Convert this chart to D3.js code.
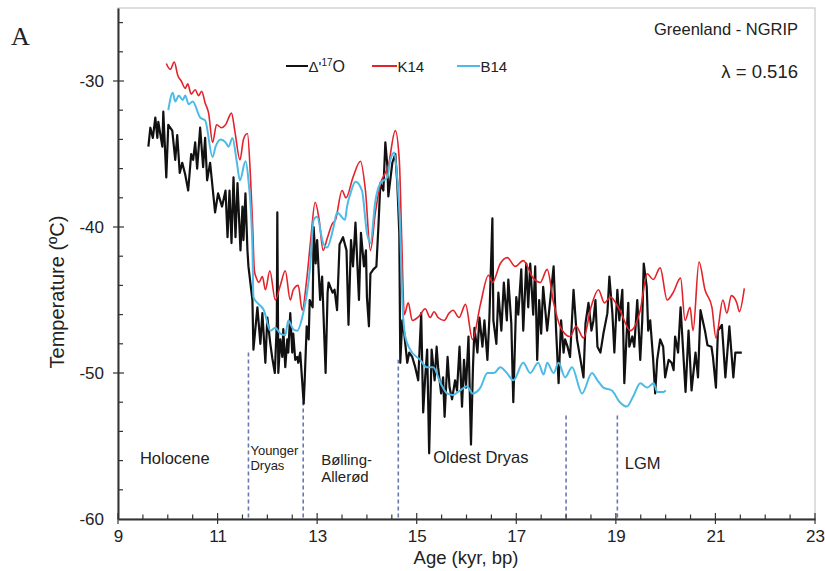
<!DOCTYPE html>
<html><head><meta charset="utf-8">
<script src="https://cdn.jsdelivr.net/npm/d3@7"></script>
<style>body{margin:0;background:#fff}svg{display:block}text{font-family:"Liberation Sans",Arial,Helvetica,sans-serif;fill:#222}</style>
</head><body>
<svg id="c" width="825" height="571"></svg>
<script>
// ---- data ----
const d17O = [[9.61,-34.5],[9.65,-33.2],[9.7,-33.9],[9.75,-32.5],[9.79,-33.9],[9.81,-32.8],[9.89,-34.5],[9.91,-32.1],[9.97,-36.6],[10.01,-33.0],[10.09,-33.4],[10.15,-35.4],[10.19,-33.7],[10.24,-36.3],[10.29,-35.6],[10.35,-36.4],[10.41,-37.5],[10.47,-35.0],[10.51,-35.4],[10.55,-34.2],[10.59,-36.0],[10.65,-33.2],[10.71,-35.9],[10.75,-33.9],[10.79,-36.8],[10.85,-35.6],[10.95,-39.0],[11.01,-37.7],[11.09,-38.6],[11.16,-37.5],[11.2,-40.7],[11.24,-37.5],[11.28,-41.1],[11.32,-36.6],[11.36,-40.7],[11.4,-37.0],[11.46,-41.6],[11.5,-38.6],[11.52,-40.9],[11.56,-37.7],[11.6,-41.6],[11.62,-42.7],[11.7,-45.0],[11.72,-48.4],[11.8,-45.5],[11.86,-48.0],[11.9,-45.9],[11.96,-49.3],[12.0,-46.2],[12.06,-48.0],[12.1,-49.0],[12.15,-50.0],[12.19,-46.6],[12.2,-39.0],[12.22,-50.0],[12.26,-47.7],[12.3,-48.9],[12.32,-47.0],[12.36,-49.6],[12.4,-47.7],[12.42,-48.6],[12.46,-45.9],[12.5,-48.6],[12.52,-47.3],[12.56,-49.1],[12.6,-48.9],[12.62,-49.3],[12.66,-48.6],[12.73,-52.1],[12.75,-50.5],[12.79,-46.8],[12.83,-47.7],[12.85,-45.0],[12.91,-45.5],[12.93,-40.0],[12.97,-42.5],[13.0,-40.9],[13.06,-45.0],[13.1,-43.4],[13.17,-50.0],[13.21,-44.5],[13.23,-43.8],[13.31,-44.5],[13.35,-44.3],[13.4,-45.7],[13.45,-41.2],[13.52,-40.7],[13.59,-41.6],[13.63,-46.7],[13.68,-40.9],[13.72,-42.7],[13.77,-39.7],[13.81,-42.7],[13.84,-45.0],[13.88,-40.4],[13.94,-42.7],[13.98,-41.6],[14.0,-44.8],[14.04,-46.8],[14.07,-43.2],[14.13,-42.9],[14.19,-42.7],[14.23,-40.0],[14.27,-37.0],[14.33,-37.5],[14.37,-34.2],[14.41,-35.8],[14.43,-37.9],[14.51,-35.6],[14.57,-35.0],[14.61,-37.0],[14.65,-40.4],[14.67,-49.3],[14.71,-46.4],[14.75,-47.3],[14.81,-49.3],[14.85,-48.6],[14.91,-48.9],[14.97,-49.6],[15.03,-50.5],[15.09,-45.9],[15.13,-52.7],[15.17,-50.3],[15.21,-48.4],[15.25,-55.5],[15.3,-48.4],[15.36,-50.5],[15.4,-48.2],[15.43,-49.6],[15.49,-51.4],[15.53,-50.3],[15.56,-53.0],[15.62,-48.9],[15.66,-51.0],[15.71,-51.8],[15.77,-50.5],[15.81,-51.2],[15.86,-48.2],[15.91,-52.3],[15.95,-49.1],[15.99,-51.0],[16.04,-47.5],[16.09,-54.9],[16.13,-49.6],[16.16,-46.9],[16.22,-48.6],[16.26,-46.2],[16.32,-48.2],[16.36,-46.4],[16.42,-49.1],[16.46,-46.2],[16.52,-39.4],[16.54,-46.4],[16.6,-48.0],[16.64,-44.5],[16.7,-47.1],[16.75,-43.8],[16.81,-46.4],[16.84,-43.6],[16.9,-46.6],[16.94,-52.0],[17.0,-44.8],[17.04,-46.0],[17.1,-42.9],[17.14,-47.1],[17.2,-42.5],[17.24,-45.5],[17.28,-42.5],[17.34,-46.0],[17.38,-42.7],[17.42,-49.1],[17.46,-45.0],[17.5,-47.3],[17.54,-44.1],[17.62,-47.1],[17.75,-42.7],[17.8,-47.1],[17.85,-50.7],[17.9,-46.4],[17.95,-48.6],[17.98,-47.7],[18.03,-48.2],[18.08,-48.9],[18.15,-44.3],[18.22,-47.7],[18.28,-48.9],[18.35,-50.3],[18.39,-46.6],[18.45,-45.2],[18.51,-47.1],[18.55,-46.4],[18.59,-45.0],[18.63,-48.2],[18.69,-48.6],[18.75,-47.3],[18.83,-45.9],[18.87,-43.4],[18.93,-45.9],[18.97,-48.6],[19.03,-44.3],[19.07,-46.4],[19.13,-44.3],[19.17,-50.7],[19.23,-46.4],[19.25,-45.2],[19.27,-48.2],[19.33,-47.5],[19.37,-48.2],[19.43,-45.0],[19.49,-49.1],[19.53,-46.4],[19.56,-42.5],[19.62,-44.1],[19.65,-47.1],[19.69,-46.4],[19.75,-49.1],[19.79,-51.4],[19.83,-49.1],[19.89,-47.7],[19.95,-48.2],[19.99,-50.3],[20.06,-49.1],[20.12,-49.3],[20.16,-49.8],[20.19,-47.5],[20.25,-48.6],[20.3,-45.5],[20.4,-51.3],[20.46,-47.1],[20.52,-51.2],[20.6,-48.6],[20.65,-50.3],[20.7,-45.7],[20.79,-47.1],[20.84,-48.1],[20.92,-48.2],[20.95,-48.9],[21.01,-51.0],[21.05,-47.1],[21.13,-46.7],[21.2,-50.3],[21.28,-46.8],[21.36,-50.3],[21.4,-48.6],[21.44,-48.6],[21.53,-48.6]];

const k14 = [[9.97,-28.8],[10.05,-29.2],[10.13,-28.7],[10.2,-29.6],[10.27,-30.0],[10.35,-30.5],[10.4,-30.2],[10.47,-30.9],[10.55,-30.6],[10.62,-31.0],[10.68,-30.7],[10.75,-31.5],[10.82,-32.2],[10.9,-34.2],[10.98,-33.0],[11.08,-33.2],[11.16,-33.0],[11.28,-32.2],[11.35,-33.5],[11.45,-35.4],[11.52,-34.0],[11.6,-33.6],[11.66,-36.5],[11.7,-39.5],[11.74,-43.0],[11.78,-43.5],[11.83,-43.8],[11.9,-43.4],[11.96,-44.3],[12.05,-43.0],[12.16,-45.0],[12.26,-44.0],[12.36,-43.0],[12.46,-45.0],[12.52,-44.3],[12.62,-44.0],[12.7,-45.7],[12.79,-43.6],[12.87,-40.9],[12.96,-38.3],[13.04,-39.5],[13.12,-41.6],[13.2,-40.8],[13.3,-39.8],[13.37,-39.5],[13.5,-37.5],[13.58,-38.0],[13.72,-36.6],[13.87,-35.5],[13.97,-37.5],[14.07,-41.6],[14.17,-39.0],[14.27,-37.1],[14.43,-35.8],[14.57,-33.4],[14.65,-35.4],[14.7,-41.0],[14.75,-46.0],[14.83,-45.2],[14.91,-46.4],[15.05,-46.1],[15.17,-45.6],[15.27,-46.2],[15.35,-45.8],[15.43,-46.2],[15.55,-46.4],[15.65,-45.9],[15.73,-45.7],[15.85,-46.2],[15.98,-45.3],[16.12,-47.7],[16.28,-45.3],[16.44,-43.3],[16.52,-43.8],[16.68,-42.5],[16.82,-42.1],[16.98,-42.7],[17.14,-42.3],[17.34,-43.5],[17.48,-43.8],[17.62,-42.9],[17.75,-45.2],[17.88,-46.8],[18.08,-47.5],[18.2,-46.8],[18.35,-47.6],[18.5,-45.5],[18.65,-44.3],[18.77,-45.2],[18.89,-44.8],[19.08,-45.7],[19.29,-47.1],[19.49,-45.7],[19.63,-43.2],[19.75,-43.6],[19.89,-42.8],[20.03,-45.0],[20.15,-44.5],[20.3,-43.5],[20.39,-46.4],[20.49,-45.5],[20.55,-47.1],[20.67,-42.4],[20.79,-44.3],[20.93,-45.5],[21.01,-47.6],[21.15,-45.0],[21.23,-45.9],[21.32,-44.7],[21.43,-45.2],[21.48,-45.8],[21.58,-44.2]];

const b14 = [[10.01,-32.0],[10.1,-30.8],[10.15,-31.4],[10.22,-31.0],[10.3,-31.3],[10.35,-31.0],[10.42,-31.6],[10.5,-31.4],[10.65,-32.5],[10.75,-32.7],[10.9,-35.2],[10.96,-34.5],[11.06,-34.0],[11.16,-34.2],[11.22,-34.5],[11.3,-33.9],[11.38,-35.4],[11.45,-36.8],[11.56,-35.5],[11.62,-36.8],[11.7,-41.4],[11.72,-44.8],[11.8,-45.2],[11.93,-45.7],[12.06,-47.1],[12.16,-46.9],[12.26,-47.3],[12.36,-47.4],[12.42,-46.4],[12.52,-47.0],[12.6,-47.1],[12.7,-46.2],[12.86,-42.7],[12.93,-39.5],[13.0,-39.3],[13.12,-41.1],[13.2,-41.4],[13.33,-40.0],[13.4,-39.0],[13.56,-39.5],[13.6,-38.6],[13.67,-37.7],[13.77,-36.9],[13.9,-37.5],[14.0,-40.4],[14.07,-41.1],[14.17,-38.2],[14.27,-37.0],[14.41,-36.6],[14.47,-35.4],[14.55,-34.9],[14.6,-36.3],[14.67,-40.4],[14.71,-45.0],[14.77,-47.5],[14.87,-48.4],[15.07,-49.1],[15.2,-49.6],[15.33,-49.6],[15.48,-50.7],[15.61,-51.4],[15.73,-51.5],[15.87,-51.2],[16.01,-50.9],[16.12,-51.4],[16.28,-51.0],[16.42,-50.0],[16.55,-50.0],[16.68,-49.6],[16.81,-50.0],[16.94,-50.5],[17.14,-49.3],[17.28,-50.0],[17.44,-49.3],[17.55,-50.1],[17.62,-49.3],[17.75,-50.0],[17.85,-49.3],[17.98,-50.3],[18.12,-49.6],[18.32,-51.4],[18.52,-50.0],[18.63,-50.5],[18.75,-51.0],[18.92,-51.2],[19.08,-52.0],[19.22,-52.3],[19.35,-51.6],[19.49,-50.7],[19.63,-51.0],[19.76,-50.7],[19.83,-51.3],[19.96,-51.3],[20.0,-51.2]];

const boundaryAges = [11.62, 12.72, 14.63, 18.0, 19.03];
const boundaryTops = [-48.6, -51.9, -49.1, -52.7, -52.9];
const periodNames = [["Holocene"],["Younger","Dryas"],["Bølling-","Allerød"],["Oldest Dryas"],["LGM"]];
const periodAges = [9.44, 11.66, 13.08, 15.33, 19.18];
const periodTemps = [-56.25, -55.6, -56.3, -56.15, -56.6];
const yTickLabels = [-60, -50, -40, -30];
const xTickLabels = [9, 11, 13, 15, 17, 19, 21, 23];

// ---- chart ----
const svg = d3.select("#c");
const x = d3.scaleLinear().domain([9, 23]).range([118, 815]);
const y = d3.scaleLinear().domain([-60, -25]).range([519, 8]);

// frame
svg.append("rect").attr("x", 118).attr("y", 8).attr("width", 697).attr("height", 511)
  .attr("fill", "none").attr("stroke", "#c8c8c8").attr("stroke-width", 1.2);

// boundary dashed lines
svg.append("g").selectAll("line").data(boundaryAges).join("line")
  .attr("x1", d => x(d)).attr("x2", d => x(d))
  .attr("y1", y(-59.9)).attr("y2", (d, i) => y(boundaryTops[i]))
  .attr("stroke", "#6a78b2").attr("stroke-width", 1.6).attr("stroke-dasharray", "4,3");

// lines
const lineLin = d3.line().x(d => x(d[0])).y(d => y(d[1]));
const lineSm = d3.line().x(d => x(d[0])).y(d => y(d[1])).curve(d3.curveMonotoneX);
svg.append("path").datum(d17O).attr("d", lineLin).attr("fill", "none").attr("stroke", "#111").attr("stroke-width", 2.2).attr("stroke-linejoin", "round");
svg.append("path").datum(k14).attr("d", lineSm).attr("fill", "none").attr("stroke", "#e3232b").attr("stroke-width", 1.6);
svg.append("path").datum(b14).attr("d", lineSm).attr("fill", "none").attr("stroke", "#4dbbe6").attr("stroke-width", 2);

// axes
const yAxis = d3.axisLeft(y).tickValues(yTickLabels).tickSize(0).tickPadding(14).tickFormat(d => String(d));
const gy = svg.append("g").attr("transform", "translate(118,0)").call(yAxis);
gy.select(".domain").attr("stroke", "#333").attr("stroke-width", 2);
gy.selectAll("text").attr("font-size", 17).attr("fill", "#222").style("font-family", "Liberation Sans, Arial, sans-serif");

const xAxis = d3.axisBottom(x).tickValues(xTickLabels).tickSize(0).tickPadding(11).tickFormat(d => String(d));
const gx = svg.append("g").attr("transform", "translate(0,519)").call(xAxis);
gx.select(".domain").attr("stroke", "#333").attr("stroke-width", 2);
gx.selectAll("text").attr("font-size", 17).attr("fill", "#222").style("font-family", "Liberation Sans, Arial, sans-serif");

// y ticks (minor every 2, major every 10)
const yMinor = d3.range(-58, -25, 2);
svg.append("g").selectAll("line").data(yMinor).join("line")
  .attr("x1", d => (d % 10 === 0) ? 113 : 118).attr("x2", d => (d % 10 === 0) ? 124 : 123)
  .attr("y1", d => y(d)).attr("y2", d => y(d)).attr("stroke", "#333").attr("stroke-width", 1.2);
// x ticks (minor every 0.5, major at odd integers)
const xMinor = d3.range(9, 23.01, 0.5);
svg.append("g").selectAll("line").data(xMinor).join("line")
  .attr("x1", d => x(d)).attr("x2", d => x(d))
  .attr("y1", d => (Math.round(d) === d && d % 2 === 1) ? 524 : 519)
  .attr("y2", d => (Math.round(d) === d && d % 2 === 1) ? 513 : 514.5)
  .attr("stroke", "#333").attr("stroke-width", 1.2);

// axis titles
svg.append("text").attr("transform", "translate(64,292) rotate(-90)").attr("text-anchor", "middle")
  .attr("font-size", 20).text("Temperature (ºC)");
svg.append("text").attr("x", 466).attr("y", 564).attr("text-anchor", "middle")
  .attr("font-size", 18.5).text("Age (kyr, bp)");

// period labels
periodNames.forEach((lines, i) => {
  const small = lines[0] === "Younger";
  const fs = small ? 13 : (lines.length > 1 ? 15 : 16.5);
  const gap = small ? 15.2 : 17.4;
  const t = svg.append("text").attr("x", x(periodAges[i])).attr("y", y(periodTemps[i]))
    .attr("text-anchor", "start").attr("font-size", fs);
  lines.forEach((s, j) => t.append("tspan").attr("x", x(periodAges[i])).attr("dy", j === 0 ? 0 : gap).text(s));
});

// panel letter & annotations
svg.append("text").attr("x", 11).attr("y", 45).attr("font-size", 26).style("font-family", "Liberation Serif, Times New Roman, serif").attr("fill", "#111").text("A");
svg.append("text").attr("x", 798).attr("y", 35).attr("text-anchor", "end").attr("font-size", 16.5).text("Greenland - NGRIP");
svg.append("text").attr("x", 798).attr("y", 78).attr("text-anchor", "end").attr("font-size", 18.5).text("λ = 0.516");

// legend
const legend = [
  {x: 286, len: 22, color: "#111", label: "Δ'", sup: "17", tail: "O"},
  {x: 372, len: 25, color: "#e3232b", label: "K14"},
  {x: 457, len: 23, color: "#4dbbe6", label: "B14"}
];
const lg = svg.append("g").selectAll("g").data(legend).join("g");
lg.append("line").attr("x1", d => d.x).attr("x2", d => d.x + d.len).attr("y1", 66).attr("y2", 66)
  .attr("stroke", d => d.color).attr("stroke-width", 2);
lg.each(function(d) {
  const t = d3.select(this).append("text").attr("x", d.x + d.len + 0.5).attr("y", 72).attr("font-size", 15);
  t.append("tspan").text(d.label);
  if (d.sup) {
    t.append("tspan").attr("font-size", 10).attr("dy", -6).text(d.sup);
    t.append("tspan").attr("dy", 6).attr("font-size", 16).text(d.tail);
  }
});
</script>
</body></html>
